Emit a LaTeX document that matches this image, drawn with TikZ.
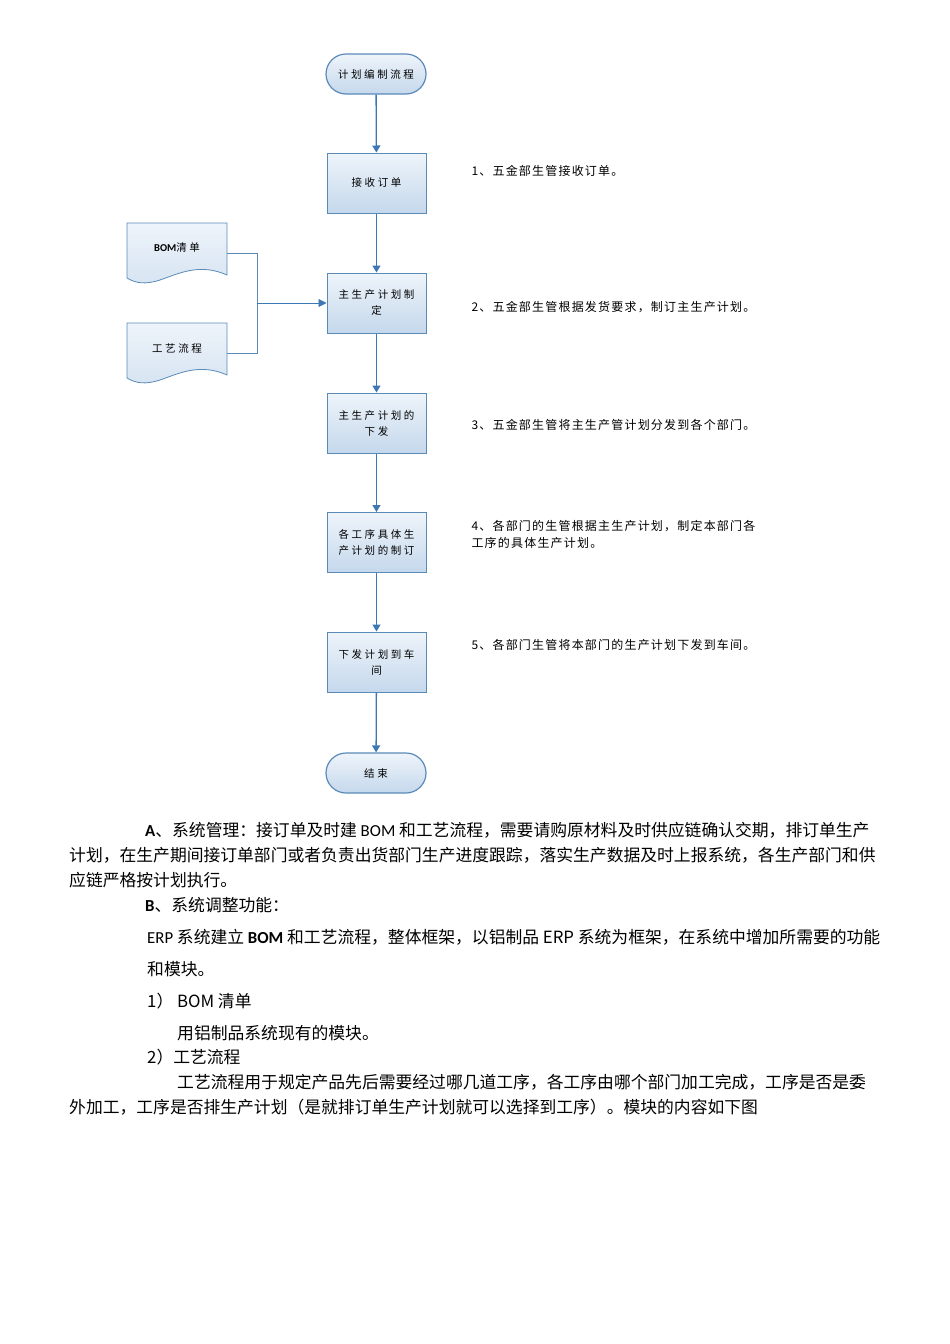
\documentclass[tikz,border=0pt]{standalone}
\usepackage{fontspec}
\setmainfont{Noto Sans CJK SC}
\newfontfamily\latinf{Carlito}
\newfontfamily\wide[LetterSpace=24]{Noto Sans CJK SC}
\newfontfamily\notef[LetterSpace=10]{Noto Sans CJK SC}
\usetikzlibrary{arrows.meta}
\definecolor{bord}{HTML}{5A8AB8}
\definecolor{fillA}{HTML}{C5D8EC}
\definecolor{fillB}{HTML}{EEF4FA}
\definecolor{arr}{HTML}{3C78B4}
\begin{document}
\begin{tikzpicture}[x=1pt,y=-1pt,
  proc/.style={draw=bord,line width=1pt,minimum width=99pt,minimum height=60pt,top color=fillB,bottom color=fillA,align=center,font=\wide\fontsize{10.5}{16}\selectfont,text width=92pt,inner sep=2pt},
  term/.style={draw=bord,line width=1.2pt,rounded corners=20pt,minimum width=100pt,minimum height=40pt,top color=fillB,bottom color=fillA,font=\wide\fontsize{10.5}{12}\selectfont},
  flow/.style={draw=arr,line width=1.3pt,-{Triangle[length=7pt,width=8pt]}},
  note/.style={anchor=west,font=\notef\fontsize{12}{17}\selectfont,align=left},
  body/.style={anchor=west,font=\fontsize{16.8}{20}\selectfont,inner sep=0pt}]
\useasboundingbox (0,0) rectangle (950,1344);
\node[term] (s) at (376,74) {计划编制流程};
\node[proc] (b1) at (376.5,183) {接收订单};
\node[proc] (b2) at (376.5,303) {主生产计划制\\定};
\node[proc] (b3) at (376.5,423) {主生产计划的\\下发};
\node[proc] (b4) at (376.5,542.5) {各工序具体生\\产计划的制订};
\node[proc] (b5) at (376.5,662) {下发计划到车\\间};
\node[term] (e) at (376,773) {结束};
\draw[flow] (s) -- (b1);
\draw[flow] (b1) -- (b2);
\draw[flow] (b2) -- (b3);
\draw[flow] (b3) -- (b4);
\draw[flow] (b4) -- (b5);
\draw[flow] (b5) -- (e);
% documents
\foreach \n/\y/\t in {d1/223/{\latinf\bfseries BOM}清单, d2/323/工艺流程}{
  \draw[bord,line width=0.8pt,top color=fillB,bottom color=fillA!70]
    (127,\y) -- (227,\y) -- (227,\y+52) .. controls (200,\y+40) and (180,\y+50) .. (160,\y+57)
    .. controls (145,\y+62) and (135,\y+60) .. (127,\y+55) -- cycle;
  \node[font=\wide\fontsize{10.5}{12}\selectfont] (\n) at (177,\y+25) {\t};
}
\coordinate (d1r) at (227,253);
\coordinate (d2r) at (227,353);
\coordinate (j) at (257,303);
\draw[bord,line width=0.8pt] (d1r) -| (257,353) -- (d2r);
\draw[arr,line width=0.8pt,-{Triangle[length=8pt,width=8pt]}] (j) -- (b2.west);
% notes
\node[note] (n1) at (468,171) {1、五金部生管接收订单。};
\node[note] (n2) at (468,307) {2、五金部生管根据发货要求，制订主生产计划。};
\node[note] (n3) at (468,425) {3、五金部生管将主生产管计划分发到各个部门。};
\node[note] (n4) at (468,534.5) {4、各部门的生管根据主生产计划，制定本部门各\\工序的具体生产计划。};
\node[note] (n5) at (468,645) {5、各部门生管将本部门的生产计划下发到车间。};
% body text
\node[body] (t1) at (145,830) {{\latinf\bfseries A}、系统管理：接订单及时建 {\latinf BOM} 和工艺流程，需要请购原材料及时供应链确认交期，排订单生产};
\node[body] (t2) at (69,855) {计划，在生产期间接订单部门或者负责出货部门生产进度跟踪，落实生产数据及时上报系统，各生产部门和供};
\node[body] (t3) at (69,880) {应链严格按计划执行。};
\node[body] (t4) at (145,905) {{\latinf\bfseries B}、系统调整功能：};
\node[body] (t5) at (147,937) {{\latinf ERP} 系统建立 {\latinf\bfseries BOM} 和工艺流程，整体框架，以铝制品 ERP 系统为框架，在系统中增加所需要的功能};
\node[body] (t6) at (147,969) {和模块。};
\node[body] (t7) at (147,1001) {1） BOM 清单};
\node[body] (t8) at (177,1033) {用铝制品系统现有的模块。};
\node[body] (t9) at (147,1057) {2）工艺流程};
\node[body] (t10) at (177,1082) {工艺流程用于规定产品先后需要经过哪几道工序，各工序由哪个部门加工完成，工序是否是委};
\node[body] (t11) at (69,1107) {外加工，工序是否排生产计划（是就排订单生产计划就可以选择到工序）。模块的内容如下图};
\end{tikzpicture}
\end{document}
